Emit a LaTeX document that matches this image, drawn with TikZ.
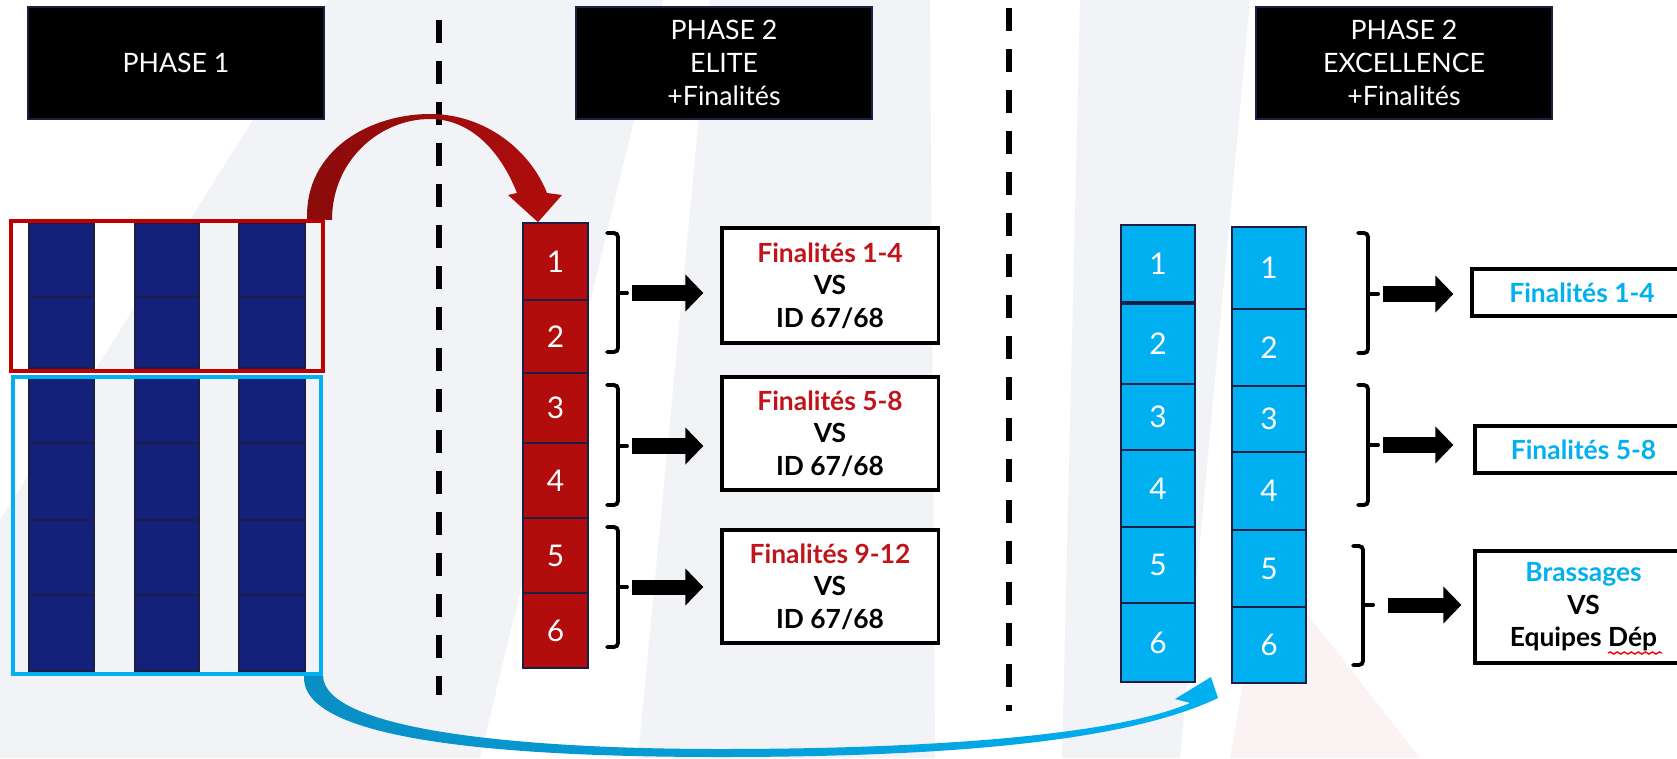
\documentclass[tikz,border=0pt]{standalone}
\usepackage{fontspec}
\setmainfont{Lato}
\usepackage{tikz}
\usetikzlibrary{arrows.meta,decorations.pathmorphing}

\definecolor{elitered}{HTML}{B20C0C}
\definecolor{elitetext}{HTML}{C0141A}
\definecolor{arcred}{HTML}{8A0B0B}
\definecolor{frame}{HTML}{C00000}
\definecolor{excelblue}{HTML}{00B0F0}
\definecolor{bluedark}{HTML}{0A8EC4}
\definecolor{poolnavy}{HTML}{14217A}
\definecolor{celledge}{HTML}{1B1F45}
\definecolor{watermark}{HTML}{F2F3F7}
\definecolor{watermarkred}{HTML}{FBF3F3}

\begin{document}
\begin{tikzpicture}[x=0.01cm, y=-0.01cm,
  phase/.style={fill=black, draw=celledge, text=white, align=center,
    minimum width=2.96cm, minimum height=1.12cm, font=\fontsize{7.6}{9.4}\selectfont},
  elitecell/.style={fill=elitered, draw=celledge, line width=0.5pt, text=white,
    minimum width=0.65cm, font=\fontsize{8.5}{10}\selectfont},
  excelcell/.style={fill=excelblue, draw=celledge, line width=0.6pt, text=white,
    minimum width=0.74cm, font=\fontsize{8.5}{10}\selectfont},
  poolcell/.style={fill=poolnavy, draw=celledge, line width=0.5pt},
  result/.style={draw, fill=white, line width=0.9pt, align=center,
    font=\bfseries\fontsize{7.5}{9.2}\selectfont},
  brace/.style={line width=1.1pt, rounded corners=0.04cm, line cap=round},
  push/.style={line width=0.15cm, -{Triangle[length=0.18cm, width=0.36cm]}},
  divider/.style={line width=1.7pt, dash pattern=on 0.23cm off 0.18cm}
]
\useasboundingbox (0,0) rectangle (1677,758);
\clip (0,0) rectangle (1677,758);
\fill[white] (0,0) rectangle (1677,758);

% watermark
\fill[watermark] (329,0) -- (663,0) -- (480,758) -- (0,758) -- (0,520) -- cycle;
\fill[watermark] (710,0) -- (930,0) -- (935,758) -- (638,758) -- cycle;
\fill[watermark] (1080,0) -- (1250,0) -- (1180,758) -- (1062,758) -- cycle;
\fill[watermarkred] (1230,758) -- (1265,560) -- (1420,758) -- cycle;

% headers
\node[phase] (phase1) at (176,63) {PHASE 1};
\node[phase] (elite) at (724,63) {PHASE 2\\ELITE\\+Finalités};
\node[phase] (excel) at (1404,63) {PHASE 2\\EXCELLENCE\\+Finalités};

\draw[divider] (439,20) -- (439,695);
\draw[divider] (1009,8) -- (1009,711);

% phase 1
\foreach \l/\r in {29/94,135/199,239/305}
  \foreach \ya/\yb in {223/297,297/368,378/443,443/520,520/595,595/671}
    \draw[poolcell] (\l,\ya) rectangle (\r,\yb);
\node[draw=frame, line width=0.04cm, minimum width=3.12cm, minimum height=1.5cm] (eliteframe) at (167,296) {};
\node[draw=excelblue, line width=0.04cm, minimum width=3.08cm, minimum height=2.97cm] (excelframe) at (167,525.5) {};

% elite column
\foreach \n/\ya/\yb in {1/223/300,2/300/373,3/373/443,4/443/518,5/518/593,6/593/668}
  \node[elitecell, minimum height={(\yb-\ya)*0.01cm}] (e\n) at (555.5,{(\ya+\yb)/2}) {\n};

% excellence columns
\foreach \n/\ya/\yb in {1/225/302,2/304/384,3/384/450,4/450/527,5/527/603,6/603/682}
  \node[excelcell, minimum height={(\yb-\ya)*0.01cm}] (a\n) at (1158,{(\ya+\yb)/2}) {\n};
\foreach \n/\ya/\yb in {1/227/309,2/309/386,3/386/452,4/452/530,5/530/607,6/607/683}
  \node[excelcell, minimum height={(\yb-\ya)*0.01cm}] (b\n) at (1269,{(\ya+\yb)/2}) {\n};

% transfer arcs
\coordinate (redfrom) at ([xshift=-0.18cm]eliteframe.north east);
\coordinate (redto) at ([xshift=-0.175cm]e1.north);
\shade[left color=arcred, right color=elitered]
  (redfrom) .. controls (305,150) and (370,114) .. (430,114)
  .. controls (485,114) and (530,150) .. (547,193)
  -- (562,195) -- (redto) -- (508,195) -- (517,193)
  .. controls (500,150) and (470,119) .. (430,119)
  .. controls (380,119) and (332,160) .. (332,220) -- cycle;

\coordinate (bluefrom) at ([xshift=-0.19cm]excelframe.south east);
\coordinate (blueto) at ([xshift=-0.2cm, yshift=0.07cm]b6.south west);
\shade[left color=bluedark, right color=excelblue]
  (bluefrom) .. controls (300,740) and (500,757) .. (720,757)
  .. controls (960,757) and (1130,740) .. (1218,698)
  -- (blueto) -- (1175,699) -- (1190,703)
  .. controls (1120,733) and (950,749) .. (720,749)
  .. controls (520,749) and (325,730) .. (323,676) -- cycle;

% results
\node[result, minimum width=2.16cm, minimum height=1.15cm] (ef1) at (830,285.5)
  {\textcolor{elitetext}{Finalités 1-4}\\VS\\ID 67/68};
\node[result, minimum width=2.16cm, minimum height=1.13cm] (ef2) at (830,433.5)
  {\textcolor{elitetext}{Finalités 5-8}\\VS\\ID 67/68};
\node[result, minimum width=2.16cm, minimum height=1.13cm] (ef3) at (830,586.5)
  {\textcolor{elitetext}{Finalités 9-12}\\VS\\ID 67/68};

\node[result, minimum width=2.2cm, minimum height=0.47cm] (xf1) at (1582,292.5)
  {\textcolor{excelblue}{Finalités 1-4}};
\node[result, minimum width=2.17cm, minimum height=0.47cm] (xf2) at (1583.5,449.5)
  {\textcolor{excelblue}{Finalités 5-8}};
\node[result, minimum width=2.17cm, minimum height=1.12cm] (xf3) at (1583.5,607)
  {\textcolor{excelblue}{Brassages}\\VS\\Equipes Dép};
\draw[red, decorate, decoration={snake, amplitude=0.3pt, segment length=2pt}] (1608,653) -- (1662,653);

% brackets
\foreach \k/\ya/\yb/\m in {1/233/352/293,2/385/505/446,3/527/647/587} {
  \draw[brace] (607,\ya) -- (618,\ya) -- (618,\yb) -- (607,\yb);
  \draw[brace] (618,\m) -- (627,\m) coordinate (eb\k);
}
\foreach \k/\x/\ya/\yb/\m in {1/1368/233/353/294,2/1368/385/505/445,3/1363/546/665/605} {
  \draw[brace] ({\x-10},\ya) -- (\x,\ya) -- (\x,\yb) -- ({\x-10},\yb);
  \draw[brace] (\x,\m) -- ({\x+10},\m) coordinate (xb\k);
}

% arrows
\foreach \k in {1,2,3}
  \draw[push, shorten <=0.05cm, shorten >=0.17cm] (eb\k) -- (eb\k -| ef\k.west);
\foreach \k/\s/\e in {1/0.05/0.17,2/0.05/0.2,3/0.15/0.12}
  \draw[push, shorten <=\s cm, shorten >=\e cm] (xb\k) -- (xb\k -| xf\k.west);
\end{tikzpicture}
\end{document}
